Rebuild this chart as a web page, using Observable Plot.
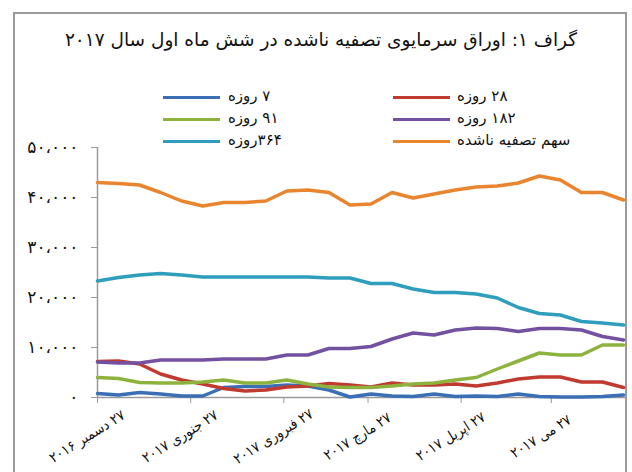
<!DOCTYPE html>
<html>
<head>
<meta charset="utf-8">
<script src="https://cdn.jsdelivr.net/npm/d3@7"></script>
<script src="https://cdn.jsdelivr.net/npm/@observablehq/plot@0.6"></script>
<style>
  html, body { margin: 0; padding: 0; background: #fff; }
  #wrap { position: relative; width: 632px; height: 472px; overflow: hidden; font-family: "DejaVu Sans", sans-serif; }
  #border { position: absolute; left: 13px; top: 12px; width: 610px; height: 500px; border: 2px solid #9a9a9a; box-sizing: content-box; }
  #title { position: absolute; left: 0; top: 29px; width: 642px; text-align: center; font-size: 18.5px; color: #111; }
  .lg-line { position: absolute; height: 3px; width: 57px; }
  .lg-text { position: absolute; font-size: 15px; color: #111; white-space: nowrap; line-height: 18px; }
  #chart { position: absolute; left: 0; top: 0; }
</style>
</head>
<body>
<div id="wrap">
  <div id="border"></div>
  <div id="chart"></div>
  <div id="title" dir="rtl"></div>
  <div id="legend"></div>
</div>
<script>
const titleText = "گراف ۱: اوراق سرمایوی تصفیه ناشده در شش ماه اول سال ۲۰۱۷";

const dates = ["2016-12-27","2017-01-03","2017-01-10","2017-01-17","2017-01-24","2017-01-31",
  "2017-02-07","2017-02-14","2017-02-21","2017-02-28","2017-03-07","2017-03-14","2017-03-21",
  "2017-03-28","2017-04-04","2017-04-11","2017-04-18","2017-04-25","2017-05-02","2017-05-09",
  "2017-05-16","2017-05-23","2017-05-30","2017-06-06","2017-06-13","2017-06-20"];

const seriesNames = ["۷ روزه", "۲۸ روزه", "۹۱ روزه", "۱۸۲ روزه", "۳۶۴روزه", "سهم تصفیه ناشده"];
const colors = ["#3a6fb5", "#c03a30", "#8db33e", "#7350a0", "#2e9ebc", "#e8852e"];

const s7   = [800, 500, 1000, 700, 300, 300, 2000, 2200, 2200, 2500, 2300, 1500, 100, 700, 300, 200, 700, 200, 300, 200, 700, 200, 100, 100, 200, 500];
const s28  = [7200, 7300, 6700, 4700, 3500, 2700, 1800, 1300, 1500, 2100, 2300, 2800, 2500, 2100, 2900, 2500, 2500, 2700, 2300, 2900, 3700, 4100, 4100, 3100, 3100, 2000];
const s91  = [4000, 3800, 3000, 2900, 2900, 3100, 3500, 2900, 2900, 3500, 2700, 2100, 2000, 2000, 2300, 2700, 2900, 3500, 4000, 5700, 7300, 8900, 8500, 8500, 10500, 10500];
const s182 = [7100, 6900, 6900, 7500, 7500, 7500, 7700, 7700, 7700, 8500, 8500, 9800, 9800, 10200, 11700, 12900, 12500, 13500, 13900, 13800, 13200, 13800, 13800, 13500, 12200, 11500];
const s364 = [23300, 24000, 24500, 24800, 24500, 24100, 24100, 24100, 24100, 24100, 24100, 23900, 23900, 22800, 22800, 21700, 21000, 21000, 20700, 19900, 18000, 16800, 16500, 15200, 14900, 14500];
const unsettled = [43000, 42800, 42500, 41000, 39300, 38300, 39000, 39000, 39300, 41300, 41500, 41000, 38500, 38700, 41000, 39900, 40700, 41500, 42100, 42300, 42900, 44300, 43500, 41000, 41000, 39500];

const yTicks = [0, 10000, 20000, 30000, 40000, 50000];
const xTickDates = ["2016-12-27","2017-01-27","2017-02-27","2017-03-27","2017-04-27","2017-05-27"];
const xTickLabels = ["۲۷ دسمبر ۲۰۱۶", "۲۷ جنوری ۲۰۱۷", "۲۷ فبروری ۲۰۱۷", "۲۷ مارچ ۲۰۱۷", "۲۷ اپریل ۲۰۱۷", "۲۷ می ۲۰۱۷"];

const allSeries = [s7, s28, s91, s182, s364, unsettled];
const parse = d3.utcParse("%Y-%m-%d");
const dateObjs = dates.map(parse);
const tickObjs = xTickDates.map(parse);
const rows = [];
allSeries.forEach((s, k) => s.forEach((v, i) => rows.push({date: dateObjs[i], value: v, series: seriesNames[k]})));

const faDigits = "۰۱۲۳۴۵۶۷۸۹";
const toFa = s => String(s).replace(/\d/g, d => faDigits[+d]);
const yFmt = v => toFa(d3.format(",")(v)).replace(/,/g, "،");
const rtl = s => "\u202B" + s + "\u202C";

const chart = Plot.plot({
  width: 632, height: 472,
  marginTop: 147, marginBottom: 75, marginLeft: 97, marginRight: 9,
  style: {fontFamily: "DejaVu Sans", background: "transparent", overflow: "visible", color: "#111"},
  x: {type: "utc", domain: [dateObjs[0], dateObjs[dateObjs.length - 1]]},
  y: {domain: [0, 50000]},
  color: {domain: seriesNames, range: colors},
  marks: [
    Plot.ruleY([0], {stroke: "#9a9a9a", strokeWidth: 1.5, insetRight: -3}),
    Plot.ruleX([dateObjs[0]], {y1: 0, y2: 50000, stroke: "#9a9a9a", strokeWidth: 1.5}),
    Plot.axisY({ticks: yTicks, tickFormat: yFmt, tickSize: 6, tickPadding: 13, fontSize: 17, stroke: "#9a9a9a", fill: "#111", label: null}),
    Plot.axisX({ticks: tickObjs, tickFormat: () => "", tickSize: 6, stroke: "#9a9a9a", label: null}),
    Plot.text(tickObjs, {x: d => d, frameAnchor: "bottom", text: (d, i) => rtl(xTickLabels[i]), rotate: -32, dy: 43, dx: -8, fontSize: 14.5, textAnchor: "middle", fill: "#111", fontFamily: "DejaVu Sans Condensed, DejaVu Sans"}),
    Plot.line(rows, {x: "date", y: "value", z: "series", stroke: "series", strokeWidth: 3.5, strokeLinejoin: "round", strokeLinecap: "round"})
  ]
});
document.getElementById("chart").appendChild(chart);

document.getElementById("title").textContent = titleText;

// legend: left column (7, 91, 364) and right column (28, 182, unsettled)
const legendOrder = [[0, 0, 0], [1, 1, 0], [2, 0, 1], [3, 1, 1], [4, 0, 2], [5, 1, 2]];
const lg = document.getElementById("legend");
const colLineX = [163, 393], colTextX = [228, 457], rowY = [97, 119, 141];
legendOrder.forEach(([k, c, r]) => {
  const ln = document.createElement("div");
  ln.className = "lg-line";
  ln.style.left = colLineX[c] + "px";
  ln.style.top = (rowY[r] - 1.5) + "px";
  ln.style.background = colors[k];
  lg.appendChild(ln);
  const tx = document.createElement("div");
  tx.className = "lg-text";
  tx.dir = "rtl";
  tx.style.left = colTextX[c] + "px";
  tx.style.top = (rowY[r] - 10) + "px";
  tx.textContent = seriesNames[k];
  lg.appendChild(tx);
});
</script>
</body>
</html>
